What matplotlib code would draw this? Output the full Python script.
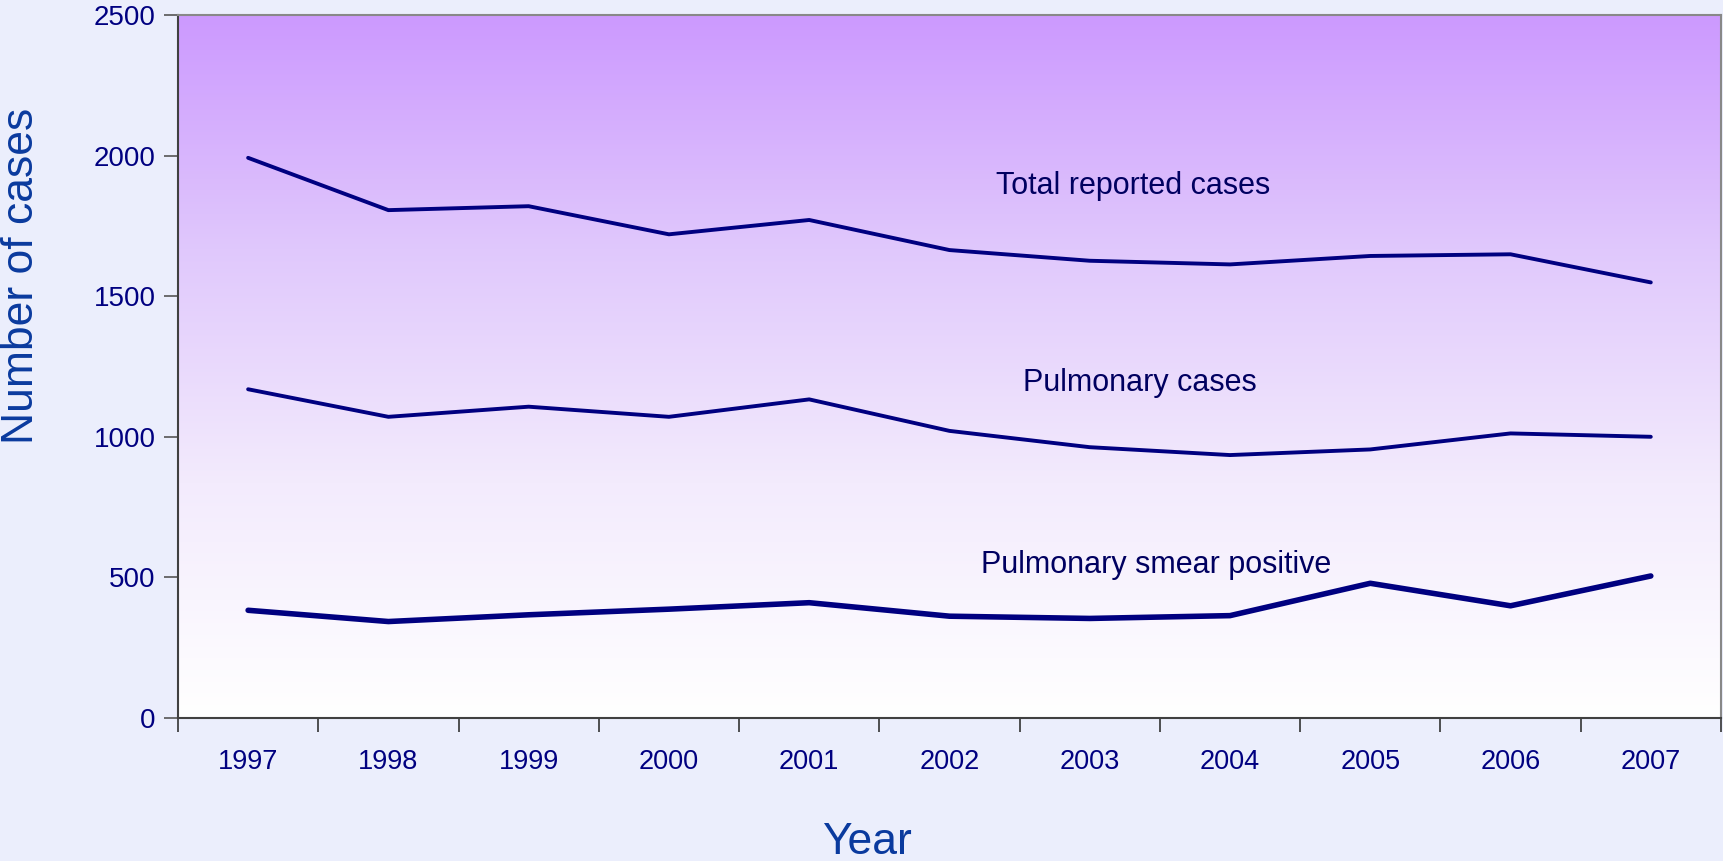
import numpy as np
import matplotlib
matplotlib.use("Agg")
import matplotlib.pyplot as plt
from matplotlib.colors import LinearSegmentedColormap

years = ["1997", "1998", "1999", "2000", "2001", "2002", "2003", "2004", "2005", "2006", "2007"]
total_cases = [1992, 1806, 1820, 1720, 1771, 1664, 1626, 1613, 1643, 1649, 1549]
pulmonary_cases = [1169, 1071, 1107, 1071, 1133, 1021, 963, 935, 955, 1012, 1000]
smear_positive = [383, 343, 367, 387, 410, 362, 354, 364, 479, 399, 505]
y_ticks = [0, 500, 1000, 1500, 2000, 2500]

navy = "#000080"
fig = plt.figure(figsize=(17.23, 8.61), dpi=100, facecolor="#EBEEFC")
ax = fig.add_axes([0.1033, 0.1661, 0.8955, 0.8165])

x = np.arange(len(years))
ax.set_xlim(-0.5, len(years) - 0.5)
ax.set_ylim(0, 2500)

cmap = LinearSegmentedColormap.from_list("bg", ["#FFFFFF", "#F3EBFD", "#E0C8FC", "#CC99FF"])
grad = np.linspace(0, 1, 256).reshape(-1, 1)
ax.imshow(grad, aspect="auto", cmap=cmap, origin="lower",
          extent=[-0.5, len(years) - 0.5, 0, 2500], zorder=0)

ax.plot(x, total_cases, color=navy, lw=2.8, zorder=3, solid_capstyle="round")
ax.plot(x, pulmonary_cases, color=navy, lw=2.8, zorder=3, solid_capstyle="round")
ax.plot(x, smear_positive, color=navy, lw=4.0, zorder=3, solid_capstyle="round")

lab_font = ["Liberation Sans", "DejaVu Sans"]
ax.text(6.31, 1892, "Total reported cases", ha="center", va="center", fontsize=22,
        color="#000060", family=lab_font, zorder=4)
ax.text(6.36, 1191, "Pulmonary cases", ha="center", va="center", fontsize=22,
        color="#000060", family=lab_font, zorder=4)
ax.text(6.47, 544, "Pulmonary smear positive", ha="center", va="center", fontsize=22,
        color="#000060", family=lab_font, zorder=4)

ax.set_yticks(y_ticks)
ax.set_yticklabels([str(v) for v in y_ticks])
ax.set_xticks(x)
ax.set_xticklabels(years)
ax.set_xticks(np.arange(-0.5, len(years), 1.0), minor=True)
ax.tick_params(axis="x", which="major", length=0, pad=22, labelsize=19.5, labelcolor=navy)
ax.tick_params(axis="x", which="minor", length=10, width=1.2, color="#333333", direction="out")
ax.tick_params(axis="y", length=10, width=1.2, color="#555555", labelsize=20, labelcolor=navy, pad=6)
for lbl in ax.get_xticklabels() + ax.get_yticklabels():
    lbl.set_family(["Liberation Sans", "DejaVu Sans"])

for side in ["left", "bottom"]:
    ax.spines[side].set_color("#404040")
    ax.spines[side].set_linewidth(1.5)
for side in ["top", "right"]:
    ax.spines[side].set_color("#888888")
    ax.spines[side].set_linewidth(1.5)

fig.text(0.0125, 0.68, "Number of cases", rotation=90, ha="center", va="center",
         fontsize=32, color="#0A3A9E", family=["Liberation Sans", "DejaVu Sans"])
fig.text(0.503, 0.021, "Year", ha="center", va="center",
         fontsize=32, color="#0A3A9E", family=["Liberation Sans", "DejaVu Sans"])

fig.savefig("out.png", dpi=100, facecolor=fig.get_facecolor())
